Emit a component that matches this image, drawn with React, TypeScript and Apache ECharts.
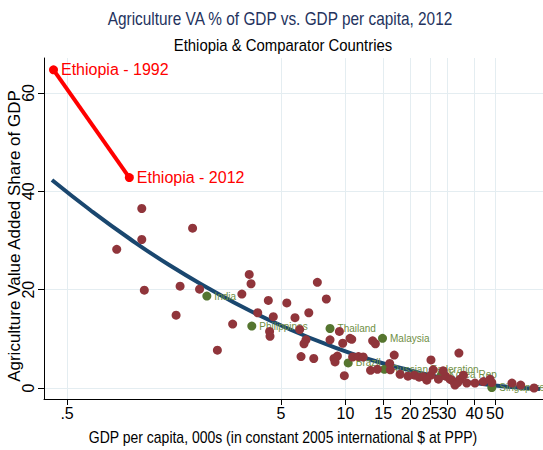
import React, { useEffect, useRef } from 'react';
import * as echarts from 'echarts';

const FONT = '"Liberation Sans", Arial, Helvetica, sans-serif';

// Comparator countries (GDP per capita, 000s; Agriculture VA % of GDP)
const countryGdp = [
  1.117, 1.117, 0.853, 1.93, 1.148, 1.687, 2.08, 1.616, 3.55, 3.62,
  3.28, 4.36, 3.89, 4.6, 2.97, 2.52, 5.32, 5.81, 6.74, 7.39,
  8.14, 4.42, 4.44, 6.11, 6.54, 6.4, 6.2, 7.11, 9.37, 8.47,
  9.71, 10.5, 10.7, 8.84, 8.94, 9.17, 9.88, 10.8, 11.5, 12.1,
  13.4, 13.8, 13.1, 14.1, 16.1, 16.9, 16.2, 21.0, 22.1, 23.1,
  25.1, 25.1, 25.7, 24.0, 27.2, 29.4, 30.8, 31.4, 32.3, 33.5,
  34.3, 33.9, 32.5, 35.6, 36.9, 44.1, 47.4, 48.3, 65.9, 76.1,
  19.6, 18.0, 28.6, 40.3, 60.0
];
const countryAg = [
  36.5, 30.2, 28.2, 32.5, 19.9, 20.7, 20.1, 14.8, 23.1, 21.2,
  19.1, 17.8, 15.3, 14.5, 13.0, 7.7, 17.3, 14.3, 15.3, 21.5,
  18.1, 11.5, 10.5, 11.9, 9.8, 9.0, 6.4, 6.0, 11.5, 9.8,
  9.1, 10.1, 9.9, 6.0, 5.3, 6.5, 2.5, 6.3, 6.4, 6.3,
  9.6, 9.0, 3.6, 3.8, 5.0, 6.7, 3.7, 2.6, 2.2, 2.3,
  5.7, 2.6, 3.7, 1.6, 1.8, 2.4, 1.8, 1.6, 1.1, 1.1,
  1.8, 7.1, 0.6, 2.6, 1.0, 1.3, 1.8, 1.1, 0.6, 0.0,
  2.4, 2.8, 3.5, 1.0, 1.0
];

// Labelled comparator countries
const labeledNames = ['India', 'Philippines', 'Thailand', 'Malaysia', 'Brazil', 'Russian Federation', 'Korea Rep', 'Singapore'];
const labeledGdp = [2.25, 3.65, 8.47, 14.9, 10.3, 15.2, 28.1, 48.3];
const labeledAg = [18.7, 12.6, 12.1, 10.1, 5.1, 3.8, 2.7, 0.1];

// Fitted curve
const fitGdp = [0.425, 0.641, 0.985, 1.514, 2.33, 3.58, 5.51, 8.47, 13.0, 20.0, 30.8, 47.4, 81.1];
const fitAg = [42.3, 36.2, 30.3, 24.9, 20.1, 15.7, 11.9, 8.6, 5.8, 3.6, 1.8, 0.6, -0.2];

// Ethiopia
const ethiopiaYears = ['1992', '2012'];
const ethiopiaGdp = [0.432, 0.977];
const ethiopiaAg = [64.7, 42.8];

// Axis ticks
const xTickValues = [0.5, 5, 10, 15, 20, 25, 30, 40, 50];
const yTickValues = [0, 20, 40, 60];

export default function App() {
  const ref = useRef<HTMLDivElement>(null);
  useEffect(() => {
    if (!ref.current) return;
    const chart = echarts.init(ref.current, null, { renderer: 'svg' });
    const gridColor = '#e4edf1';
    chart.setOption({
      animation: false,
      backgroundColor: '#ffffff',
      grid: { left: 44, right: 0, top: 58, bottom: 51, containLabel: false },
      xAxis: {
        type: 'log',
        logBase: 10,
        min: 0.39,
        max: 83.8,
        axisLine: { show: true, onZero: false, lineStyle: { color: '#000', width: 1 } },
        axisTick: { show: true, customValues: xTickValues, length: 6, lineStyle: { color: '#000' } },
        axisLabel: {
          customValues: xTickValues,
          formatter: (v: number) => (v === 0.5 ? '.5' : String(v)),
          color: '#000', fontSize: 16, fontFamily: FONT, margin: 6,
        },
        splitLine: { show: true, lineStyle: { color: gridColor, width: 1 } },
        minorSplitLine: { show: false },
      },
      yAxis: {
        type: 'value',
        min: -2.237,
        max: 67.11,
        axisLine: { show: true, lineStyle: { color: '#000', width: 1 } },
        axisTick: { show: true, customValues: yTickValues, length: 6, lineStyle: { color: '#000' } },
        axisLabel: {
          customValues: yTickValues,
          rotate: 90,
          color: '#000', fontSize: 16, fontFamily: FONT, margin: 8,
        },
        splitLine: { show: true, lineStyle: { color: gridColor, width: 1 } },
      },
      graphic: [
        {
          type: 'text', x: 280, y: 19, scaleX: 0.855,
          style: { text: 'Agriculture VA % of GDP vs. GDP per capita, 2012', textAlign: 'center', textVerticalAlign: 'middle', fontSize: 18, fontFamily: FONT, fill: '#24335e' },
        },
        {
          type: 'text', x: 283, y: 45, scaleX: 0.877,
          style: { text: 'Ethiopia & Comparator Countries', textAlign: 'center', textVerticalAlign: 'middle', fontSize: 17, fontFamily: FONT, fill: '#000' },
        },
        {
          type: 'text', x: 283, y: 437, scaleX: 0.875,
          style: { text: 'GDP per capita, 000s (in constant 2005 international $ at PPP)', textAlign: 'center', textVerticalAlign: 'middle', fontSize: 16, fontFamily: FONT, fill: '#000' },
        },
        {
          type: 'text', x: 14, y: 236, rotation: Math.PI / 2,
          style: { text: 'Agriculture Value Added Share of GDP', textAlign: 'center', textVerticalAlign: 'middle', fontSize: 17, fontFamily: FONT, fill: '#000' },
        },
      ],
      series: [
        {
          type: 'line',
          data: fitGdp.map((x, i) => [x, fitAg[i]]),
          smooth: true,
          showSymbol: false,
          symbol: 'none',
          lineStyle: { color: '#1a476f', width: 4 },
          z: 2,
          silent: true,
        },
        {
          type: 'scatter',
          data: labeledNames.map((n, i) => ({ name: n, value: [labeledGdp[i], labeledAg[i]] })),
          symbolSize: 9,
          itemStyle: { color: '#55752f', opacity: 1 },
          label: {
            show: true, position: 'right', distance: 3, formatter: '{b}',
            color: '#6f8f45', fontSize: 10, fontFamily: FONT,
          },
          labelLayout: { hideOverlap: false },
          z: 3,
        },
        {
          type: 'scatter',
          data: countryGdp.map((x, i) => [x, countryAg[i]]),
          symbolSize: 9,
          itemStyle: { color: '#90353b', opacity: 1 },
          z: 4,
        },
        {
          type: 'line',
          data: ethiopiaYears.map((yr, i) => ({ name: yr, value: [ethiopiaGdp[i], ethiopiaAg[i]] })),
          symbol: 'circle',
          symbolSize: 9,
          showSymbol: true,
          lineStyle: { color: '#ff0000', width: 4 },
          itemStyle: { color: '#ff0000' },
          label: {
            show: true, position: 'right', distance: 3,
            formatter: (p: any) => 'Ethiopia - ' + p.name,
            color: '#ff0000', fontSize: 16, fontFamily: FONT,
          },
          z: 5,
        },
      ],
    });
    return () => chart.dispose();
  }, []);
  return <div ref={ref} style={{ width: 543, height: 450, position: 'absolute', left: 0, top: 0 }} />;
}
